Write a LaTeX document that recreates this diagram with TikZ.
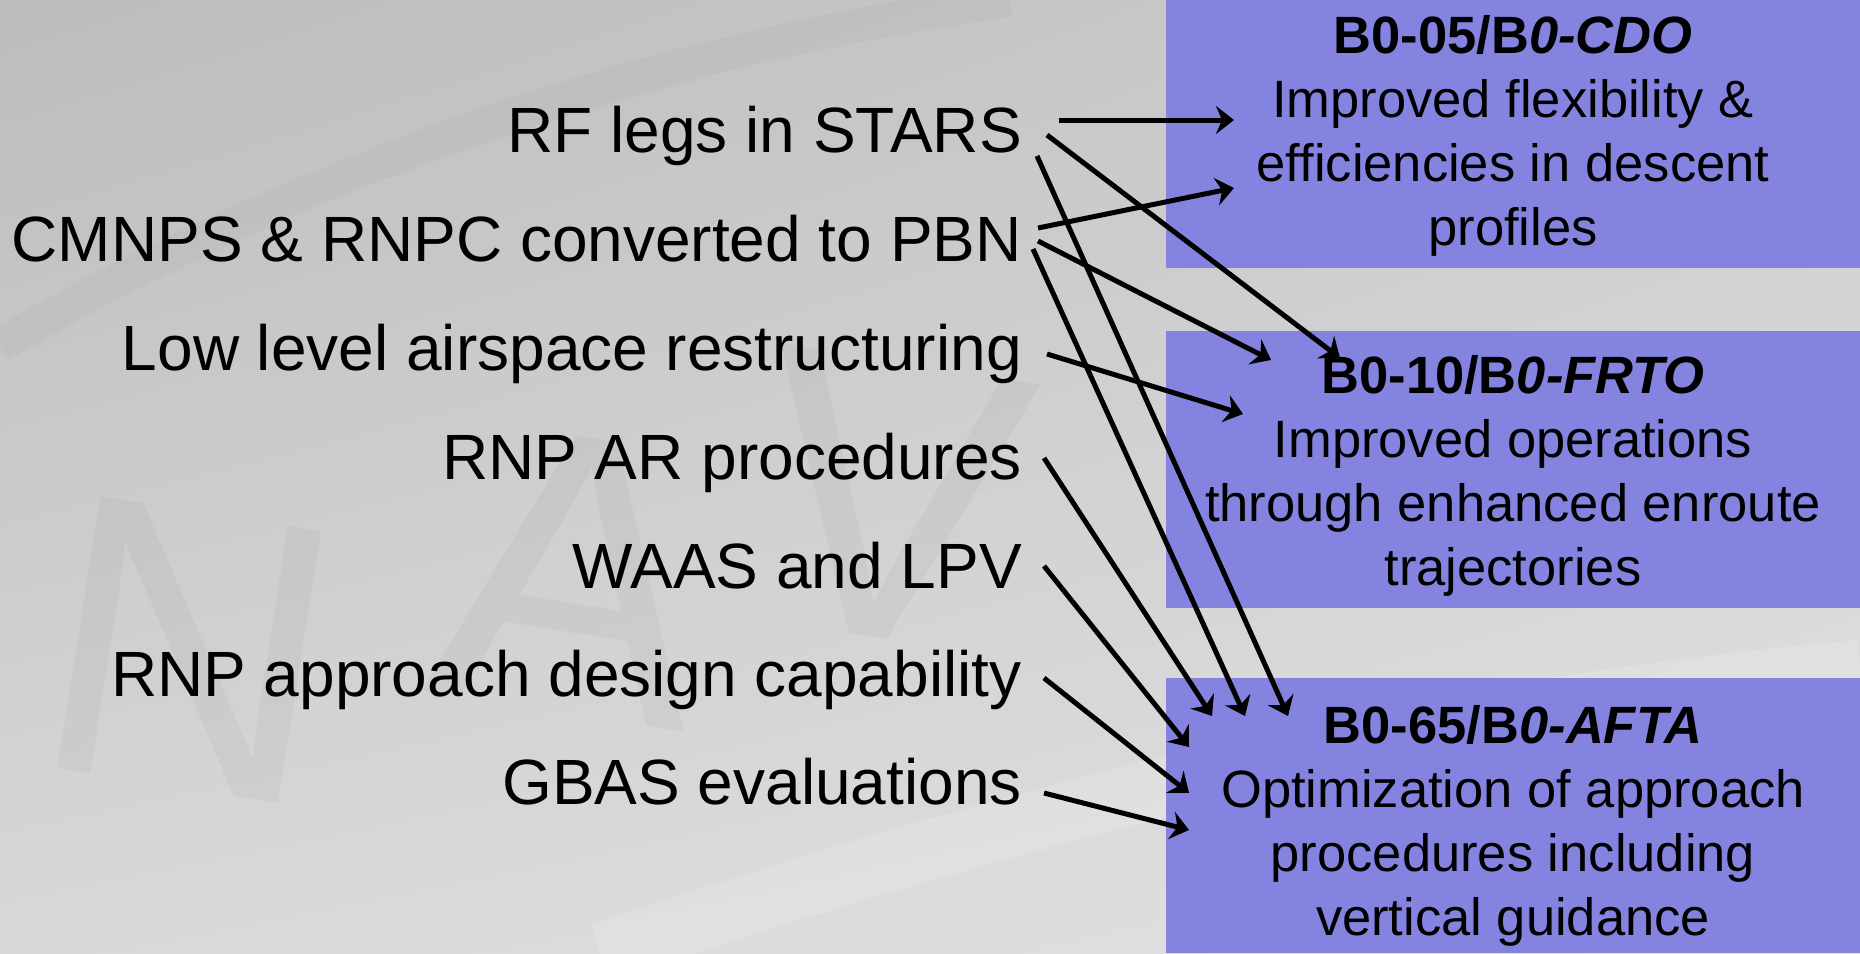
\documentclass[tikz,border=0pt]{standalone}
\usepackage{fontspec}
\setmainfont{Liberation Sans}
\usetikzlibrary{arrows.meta,shadings}
\definecolor{boxblue}{RGB}{132,132,224}
\definecolor{bgul}{RGB}{188,188,188}
\definecolor{bgur}{RGB}{205,205,205}
\definecolor{bgll}{RGB}{216,216,216}
\definecolor{bglr}{RGB}{226,226,226}
\begin{document}
\begin{tikzpicture}[x=1pt,y=-1pt,
  item/.style={anchor=base east, inner sep=0pt, font=\fontsize{64}{76}\selectfont},
  goalbox/.style={fill=boxblue, inner sep=0pt, anchor=north west, minimum width=694pt},
  goaltext/.style={anchor=north, inner sep=0pt, align=center, font=\fontsize{52.5}{64}\selectfont},
  link/.style={line width=5pt, -{Stealth[length=18pt,width=28pt,inset=6pt]}},
  wmletter/.style={text=black, opacity=0.03, inner sep=0pt, font=\fontsize{400}{400}\selectfont}
]
\useasboundingbox (0,0) rectangle (1860,953);

% background
\shade[upper left=bgul, upper right=bgur, lower left=bgll, lower right=bglr] (0,0) rectangle (1860,953);
\draw[black, opacity=0.025, line width=34pt] (0,345) .. controls (300,170) and (650,50) .. (1010,0);
\draw[white, opacity=0.14, line width=60pt] (600,953) .. controls (1000,820) and (1400,710) .. (1860,670);

% watermark lettering
\node[wmletter, rotate=-9] (wmN) at (190,650) {N};
\node[wmletter, rotate=-9] (wmA) at (575,575) {A};
\node[wmletter, rotate=-9] (wmV) at (890,500) {V};

% goal boxes
\node[goalbox, minimum height=268pt] (b1) at (1166,0) {};
\node[goalbox, minimum height=277pt] (b2) at (1166,331) {};
\node[goalbox, minimum height=275pt] (b3) at (1166,678) {};

\node[goaltext] (g1) at (1513,15) {\textbf{B0-05/B\textit{0-CDO}}\\Improved flexibility \&\\efficiencies in descent\\profiles};
\node[goaltext] (g2) at (1513,355) {\textbf{B0-10/B\textit{0-FRTO}}\\Improved operations\\through enhanced enroute\\trajectories};
\node[goaltext] (g3) at (1513,705) {\textbf{B0-65/B\textit{0-AFTA}}\\Optimization of approach\\procedures including\\vertical guidance};

% initiatives
\node[item] (rf)   at (1022,152) {RF legs in STARS};
\node[item] (cm)   at (1022,261) {CMNPS \& RNPC converted to PBN};
\node[item] (low)  at (1022,370) {Low level airspace restructuring};
\node[item] (ar)   at (1022,479) {RNP AR procedures};
\node[item] (waas) at (1022,588) {WAAS and LPV};
\node[item] (app)  at (1022,696) {RNP approach design capability};
\node[item] (gbas) at (1022,804) {GBAS evaluations};

% links to B0-05
\draw[link] ([shift={(37,-32)}]rf.base east) -- ([shift={(68,120)}]b1.north west);
\draw[link] ([shift={(16,-33)}]cm.base east) -- ([shift={(68,188)}]b1.north west);
% links to B0-10
\draw[link] ([shift={(25,-17)}]rf.base east) -- ([shift={(174,27)}]b2.north west);
\draw[link] ([shift={(16,-20)}]cm.base east) -- ([shift={(105,29)}]b2.north west);
\draw[link] ([shift={(25,-16)}]low.base east) -- ([shift={(77,83)}]b2.north west);
% links to B0-65
\draw[link] ([shift={(15,4)}]rf.base east) -- ([shift={(122,38)}]b3.north west);
\draw[link] ([shift={(11,-12)}]cm.base east) -- ([shift={(79,38)}]b3.north west);
\draw[link] ([shift={(22,-21)}]ar.base east) -- ([shift={(46,38)}]b3.north west);
\draw[link] ([shift={(22,-22)}]waas.base east) -- ([shift={(23,69)}]b3.north west);
\draw[link] ([shift={(22,-18)}]app.base east) -- ([shift={(23,115)}]b3.north west);
\draw[link] ([shift={(22,-11)}]gbas.base east) -- ([shift={(23,152)}]b3.north west);
\end{tikzpicture}
\end{document}
